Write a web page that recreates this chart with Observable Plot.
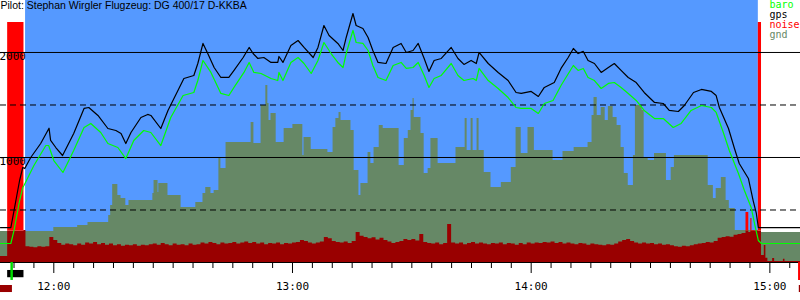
<!DOCTYPE html>
<html><head><meta charset="utf-8">
<script src="https://cdn.jsdelivr.net/npm/d3@7"></script>
<script src="https://cdn.jsdelivr.net/npm/@observablehq/plot@0.6"></script>
<style>
html,body{margin:0;padding:0;background:#fff;}
#chart{width:800px;height:300px;}
</style></head><body><div id="chart"></div>
<script>
// ---- time is in minutes after midnight, altitudes in metres ----
const titleText = "Pilot: Stephan Wirgler Flugzeug: DG 400/17 D-KKBA";
const legendNames = ["baro", "gps", "noise", "gnd"];
const legendColors = ["#00ff00", "#000000", "#ff0000", "#668866"];
const hourTicks = [720, 780, 840, 900];
const solidLevels = [1000, 2000];
const dashedLevels = [500, 1500];
const labelLevels = [1000, 2000];
const xDomain = [706.6, 907.7];
const yDomain = [0, 2495];
const noiseLimit = 300;
const flightStart = [712.9];
const flightEnd = [897.1];
const engineStart = [708.4];
const engineEnd = [712.5];
const motorStart = [708.4, 893.9];
const motorEnd = [712.5, 897.9];
const takeoffTime = [709.4];
const lastTime = [907.4];

const gpsTime = [706.6,709.2,710.0,710.7,711.4,712.2,712.7,714.2,716.7,718.8,719.2,720.5,722.2,725.0,727.6,728.8,731.1,733.6,735.6,736.9,738.1,739.4,741.9,743.6,744.4,746.9,748.7,751.2,752.7,755.2,756.2,757.5,758.7,760.3,762.0,764.0,765.3,767.6,769.1,770.1,771.3,772.8,774.6,776.3,776.6,777.6,779.6,781.4,782.9,785.2,786.4,787.9,789.2,791.4,792.7,793.5,795.2,796.0,797.7,799.0,800.2,801.5,803.5,805.3,807.3,808.6,810.3,811.6,813.1,814.3,815.6,817.4,819.9,821.6,823.1,824.9,826.2,826.9,829.2,831.7,834.2,836.2,837.5,840.0,841.8,843.3,845.8,847.5,849.3,850.6,851.8,853.1,854.3,855.9,857.6,859.4,860.9,862.6,864.4,866.4,868.4,871.0,873.2,874.7,877.0,878.5,880.8,882.8,885.3,886.5,887.3,889.6,891.1,892.3,894.6,895.8,896.6,897.1,907.7];
const gpsAlt = [333,333,495,638,781,905,895,1000,1133,1279,1162,1095,1019,1229,1467,1476,1400,1276,1257,1229,1133,1238,1381,1410,1400,1276,1448,1638,1752,1781,1895,2086,1990,1857,1762,1762,1829,1952,2048,1990,1943,1952,1905,1905,1962,1905,2067,2114,2048,1952,2048,2257,2162,2086,2019,2143,2371,2257,2229,2143,2019,1905,1895,2048,2086,2000,2019,2086,1943,1819,1924,1943,2048,1943,1886,1924,1895,2000,1895,1810,1733,1619,1610,1629,1581,1667,1714,1848,1952,2038,1990,2010,1924,1895,1810,1857,1895,1829,1762,1714,1619,1524,1514,1448,1438,1495,1619,1648,1629,1590,1476,1276,1086,943,800,590,467,333,333];

const baroTime = [706.6,709.2,710.0,710.7,711.4,712.2,712.5,715.0,718.0,718.7,720.0,722.3,725.0,727.6,729.3,731.8,733.6,736.1,738.1,740.1,742.6,744.4,746.9,749.4,752.5,755.2,756.2,757.5,759.5,762.0,764.0,765.3,767.8,769.1,770.3,772.1,774.6,776.3,776.6,777.6,779.6,781.4,782.9,784.7,786.4,787.9,789.7,791.4,792.7,793.5,795.2,796.0,797.7,799.0,800.2,801.5,803.5,805.3,807.3,808.6,810.3,811.6,813.1,814.3,815.6,817.4,819.9,821.6,823.1,825.4,826.2,826.9,829.2,831.7,834.2,836.2,837.5,840.0,841.8,843.3,845.5,847.5,850.6,851.8,853.1,854.3,855.9,857.6,859.4,860.9,862.6,864.4,866.4,868.4,871.0,873.2,875.7,877.7,880.2,882.8,885.3,886.5,888.3,889.8,892.1,893.6,895.3,896.4,897.1,897.9,907.7];
const baroAlt = [181,181,305,448,590,714,733,924,1114,1114,971,857,1067,1286,1324,1238,1133,1095,990,1162,1257,1238,1114,1381,1590,1619,1733,1924,1810,1610,1590,1667,1810,1905,1810,1800,1752,1733,1810,1733,1905,1952,1895,1800,1924,2095,1990,1905,1857,1990,2210,2095,2086,2019,1876,1762,1733,1876,1905,1848,1857,1905,1781,1667,1752,1781,1895,1781,1733,1752,1733,1848,1733,1657,1571,1476,1467,1467,1419,1514,1543,1686,1876,1829,1848,1762,1733,1657,1705,1714,1667,1610,1543,1448,1371,1371,1286,1324,1448,1495,1476,1429,1238,1067,848,686,524,324,210,181,181];

const gndTime = [706.6,720.0,726.0,728.6,733.8,734.3,734.8,736.1,736.9,738.1,738.9,744.9,745.2,746.2,746.4,748.7,752.0,755.7,757.5,758.2,759.5,760.3,761.5,762.0,763.3,769.6,770.3,772.1,773.3,773.8,774.1,774.6,775.9,777.9,780.1,782.6,782.9,784.7,788.9,790.2,790.9,791.7,792.2,794.7,795.5,796.7,797.2,799.0,799.7,800.5,801.8,802.8,806.8,808.1,809.1,809.8,810.3,810.6,812.3,813.1,814.1,814.8,816.6,821.1,823.4,823.9,824.9,825.4,826.4,826.9,828.2,829.9,832.5,835.0,836.2,837.5,839.2,840.8,845.5,848.0,850.8,854.3,855.3,855.8,856.6,857.6,858.6,859.4,860.6,861.6,862.6,863.4,864.4,865.7,866.2,867.9,868.4,869.4,871.0,874.0,875.2,876.0,884.5,885.8,886.5,887.8,889.0,889.8,891.3,896.1,907.7];
const gndAlt = [295,333,352,381,448,543,743,638,610,543,590,657,781,667,752,638,524,571,657,714,657,686,1000,895,1143,1333,1133,1495,1686,1514,1352,1419,1143,1276,1314,1019,1190,1076,1048,1286,1371,1429,1352,1257,876,638,752,1048,943,1095,1305,1276,924,1181,1257,1448,1562,1381,1229,848,895,1181,943,1095,1371,1067,1371,1067,1371,1067,857,714,762,905,1286,1038,1286,1067,971,1057,1095,1143,1400,1571,1400,1476,1352,1486,1381,1305,1095,848,733,1019,1495,1448,1000,971,1038,781,905,1019,733,610,705,810,590,514,305,286,286];

// engine noise level: irregular samples before and after, one sample per minute in between
const noiseHeadTime = [706.6, 708.4, 712.5];
const noiseHeadLevel = [57, 2286, 305];
const noiseMinuteFirst = 713;
const noiseMinuteLevel = [150,145,140,150,145,150,238,210,180,165,175,170,160,175,165,185,175,190,170,180,165,175,160,170,155,165,160,170,155,165,160,170,175,165,180,170,160,175,165,170,160,175,165,170,185,175,190,180,170,185,175,180,190,175,185,195,180,190,175,185,170,180,175,185,170,180,175,185,190,210,200,185,175,185,195,238,225,200,190,185,195,180,200,286,250,238,225,235,215,230,210,195,180,190,200,219,210,220,205,267,190,180,175,185,170,180,362,185,175,185,170,180,190,175,185,175,170,180,175,185,170,180,175,165,180,170,185,175,185,180,190,185,195,180,190,175,185,175,170,180,175,165,175,170,165,160,170,165,175,195,210,219,200,185,175,185,175,180,170,175,165,170,160,150,145,155,150,160,170,175,180,190,185,200,230,238,245,240,260,267,275];
const noiseTailTime = [894.0, 894.7, 895.2, 895.5, 897.1, 897.9, 898.6, 899.0, 899.5, 900.7, 901.2, 903.4, 903.8, 907.7];
const noiseTailLevel = [476, 286, 419, 305, 2286, 67, 162, 40, 10, 38, 10, 30, 10, 10];

const pts = (T, V) => T.map((t, i) => ({t, v: V[i]}));
const gps = pts(gpsTime, gpsAlt);
const baro = pts(baroTime, baroAlt);
const gnd = pts(gndTime, gndAlt);
const noise = [
  ...pts(noiseHeadTime, noiseHeadLevel),
  ...noiseMinuteLevel.map((v, i) => ({t: noiseMinuteFirst + i, v})),
  ...pts(noiseTailTime, noiseTailLevel)
];
const motorOn = t => motorStart.some((s, i) => t >= s && t < motorEnd[i]);
const flights = flightStart.map((s, i) => ({start: s, end: flightEnd[i]}));
const engine = engineStart.map((s, i) => ({start: s, end: engineEnd[i]}));
const minorTicks = d3.range(710, 907, 5).filter(m => m % 60 !== 0);
const hhmm = m => `${Math.floor(m / 60)}:${String(m % 60).padStart(2, "0")}`;
const mono = "DejaVu Sans Mono, monospace";

const chart = Plot.plot({
  width: 800, height: 300,
  marginTop: 0, marginRight: 0, marginBottom: 38, marginLeft: 0,
  style: {background: "white", overflow: "visible", color: "black"},
  x: {domain: xDomain, axis: null, label: null},
  y: {domain: yDomain, axis: null, label: null},
  marks: [
    Plot.rect(flights, {x1: "start", x2: "end", fill: "#5599ff"}),
    Plot.areaY(gnd, {x: "t", y: "v", curve: "step-after", fill: "#668866"}),
    Plot.areaY(noise, {x: "t", y: d => motorOn(d.t) ? Math.min(d.v, noiseLimit) : d.v, curve: "step-after", fill: "#990000"}),
    Plot.areaY(noise, {x: "t", y1: noiseLimit, y2: d => motorOn(d.t) ? Math.max(d.v, noiseLimit) : noiseLimit, curve: "step-after", fill: "#ff0000"}),
    Plot.ruleY(solidLevels, {stroke: "black", strokeWidth: 1}),
    Plot.ruleY(dashedLevels, {stroke: "black", strokeWidth: 1, strokeDasharray: "6,4"}),
    Plot.ruleY([0], {stroke: "black", strokeWidth: 1}),
    Plot.line(baro, {x: "t", y: "v", stroke: "#00ff00", strokeWidth: 1.2}),
    Plot.line(gps, {x: "t", y: "v", stroke: "black", strokeWidth: 1.2}),
    Plot.text(labelLevels, {y: d => d, text: d => String(d), frameAnchor: "left", textAnchor: "start", lineAnchor: "top", dx: -1, dy: 0, fontFamily: mono, fontSize: 11, fill: "black"}),
    Plot.axisX({ticks: minorTicks, tickSize: 6, tickFormat: () => "", label: null}),
    Plot.axisX({ticks: hourTicks, tickSize: 11, tickPadding: 9, tickFormat: hhmm, label: null, fontFamily: mono, fontSize: 11}),
    // event markers under the axis
    Plot.rect(engine, {x1: "start", x2: "end", y1: -76, y2: -145, fill: "black"}),
    Plot.ruleX(takeoffTime, {y1: 0, y2: -171, stroke: "#00dd00", strokeWidth: 2.5}),
    Plot.ruleX(lastTime, {y1: 0, y2: -171, stroke: "#ff0000", strokeWidth: 2.5}),
    Plot.rect(noiseHeadTime.slice(0, 1), {x1: d => d, x2: engineStart[0] + 1.2, y1: -219, y2: -286, fill: "#990000"}),
    Plot.rect(lastTime, {x1: d => d, x2: xDomain[1], y1: -219, y2: -286, fill: "#990000"}),
    Plot.text([titleText], {frameAnchor: "top-left", textAnchor: "start", lineAnchor: "top", dx: 0, dy: 1, fontFamily: "Liberation Sans, Arial, sans-serif", fontSize: 10.5, fill: "black"}),
    ...legendNames.map((name, i) => Plot.text([name], {frameAnchor: "top-right", textAnchor: "start", lineAnchor: "top", dx: -31, dy: i * 10, fontFamily: mono, fontSize: 10, fill: legendColors[i]}))
  ]
});
document.getElementById("chart").appendChild(chart);
</script>
</body></html>
